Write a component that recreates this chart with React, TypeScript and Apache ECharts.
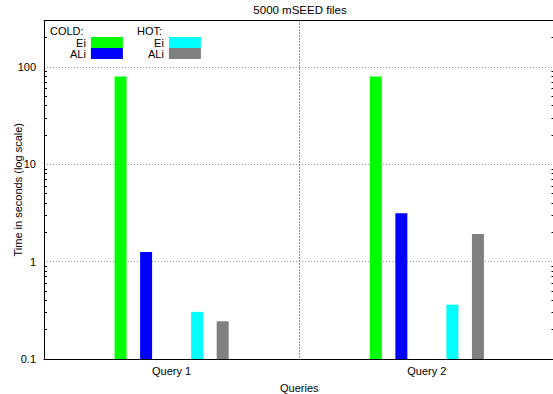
import React, { useEffect, useRef } from "react";
import * as echarts from "echarts";

const categories = ["Query 1", "Query 2"];
const coldEi = [80, 80];
const coldALi = [1.26, 3.14];
const hotEi = [0.305, 0.362];
const hotALi = [0.244, 1.92];
const yMin = 0.1;
const yMax = 300;
const yMinorTicks = [
  0.2, 0.3, 0.4, 0.5, 0.6, 0.7, 0.8, 0.9,
  2, 3, 4, 5, 6, 7, 8, 9,
  20, 30, 40, 50, 60, 70, 80, 90,
  200, 300,
];

const FONT = "'Liberation Sans', Arial, Helvetica, sans-serif";

export default function App() {
  const ref = useRef<HTMLDivElement>(null);
  useEffect(() => {
    if (!ref.current) return;
    const chart = echarts.init(ref.current, undefined, { renderer: "svg" });
    const minorLog = yMinorTicks.map((v) => Math.log10(v));
    const BAR_W = 12;
    const SLOT = 0.1; // fraction of category band between bar centres
    const makeBars = (name: string, values: number[], slot: number, color: string) => ({
      type: "custom",
      name,
      xAxisIndex: 0,
      yAxisIndex: 0,
      itemStyle: { color },
      encode: { x: 0, y: 1 },
      data: values.map((v, i) => [i, v]),
      renderItem: (params: any, api: any) => {
        const cat = api.value(0);
        const v = api.value(1);
        const top = api.coord([cat, v]);
        const base = api.coord([cat, yMin]);
        const band = api.size([1, 1])[0];
        const cx = top[0] + slot * SLOT * band;
        return {
          type: "rect",
          shape: { x: cx - BAR_W / 2, y: top[1], width: BAR_W, height: base[1] - top[1] },
          style: { fill: color },
        };
      },
    });
    const hiddenAxisBits = {
      axisLabel: { show: false },
      splitLine: { show: false },
    };
    const legendCommon = {
      orient: "vertical",
      align: "right",
      top: 37,
      padding: 0,
      itemGap: 0,
      itemWidth: 32,
      itemHeight: 11,
      icon: "rect",
      selectedMode: false,
      formatter: (n: string) => n.split(" ")[1],
      textStyle: { fontSize: 11, lineHeight: 11, color: "#000", fontFamily: FONT },
    };
    chart.setOption({
      animation: false,
      textStyle: { fontFamily: FONT },
      title: {
        text: "5000 mSEED files",
        left: 300,
        top: 4,
        padding: 0,
        textAlign: "center",
        textStyle: { fontSize: 11.5, fontWeight: "normal", color: "#000", fontFamily: FONT },
      },
      grid: {
        left: 44,
        top: 20.5,
        bottom: 35,
        right: -1.5,
        containLabel: false,
        outerBoundsMode: "none",
      },
      legend: [
        { ...legendCommon, data: ["COLD Ei", "COLD ALi"], left: 70 },
        { ...legendCommon, data: ["HOT Ei", "HOT ALi"], left: 148 },
      ],
      graphic: [
        {
          type: "text",
          x: 50,
          y: 31.2,
          style: {
            text: "COLD:",
            fontSize: 11,
            lineHeight: 11,
            verticalAlign: "middle",
            fill: "#000",
            fontFamily: FONT,
          },
        },
        {
          type: "text",
          x: 137,
          y: 31.2,
          style: {
            text: "HOT:",
            fontSize: 11,
            lineHeight: 11,
            verticalAlign: "middle",
            fill: "#000",
            fontFamily: FONT,
          },
        },
      ],
      xAxis: [
        {
          type: "category",
          data: categories,
          position: "bottom",
          name: "Queries",
          nameLocation: "middle",
          nameGap: 23,
          nameMoveOverlap: false,
          nameTextStyle: { fontSize: 11, color: "#000", fontFamily: FONT },
          axisLine: { onZero: false, lineStyle: { color: "#000", width: 1 } },
          axisTick: { inside: true, alignWithLabel: true, length: 4, lineStyle: { color: "#000" } },
          axisLabel: { fontSize: 11, color: "#000", margin: 6, fontFamily: FONT },
          splitLine: { show: true, lineStyle: { color: "#222", type: [1, 2], width: 1 } },
        },
        {
          type: "category",
          data: categories,
          position: "top",
          axisLine: { onZero: false, lineStyle: { color: "#000", width: 1 } },
          axisTick: { inside: true, alignWithLabel: true, length: 4, lineStyle: { color: "#000" } },
          ...hiddenAxisBits,
        },
      ],
      yAxis: [
        {
          type: "log",
          logBase: 10,
          min: yMin,
          max: yMax,
          position: "left",
          name: "Time in seconds (log scale)",
          nameLocation: "middle",
          nameRotate: 90,
          nameGap: 20.5,
          nameMoveOverlap: false,
          nameTextStyle: { fontSize: 11, lineHeight: 11, color: "#000", fontFamily: FONT },
          axisLine: { show: true, onZero: false, lineStyle: { color: "#000", width: 1 } },
          axisTick: { inside: true, length: 5, lineStyle: { color: "#000" } },
          axisLabel: {
            fontSize: 11,
            color: "#000",
            margin: 8,
            showMaxLabel: false,
            fontFamily: FONT,
          },
          splitLine: { show: true, lineStyle: { color: "#999", type: [1, 2], width: 1 } },
        },
        {
          type: "value",
          min: Math.log10(yMin),
          max: Math.log10(yMax),
          position: "left",
          axisLine: { show: false, onZero: false },
          axisTick: { show: true, inside: true, length: 3, customValues: minorLog, lineStyle: { color: "#000" } },
          ...hiddenAxisBits,
        },
        {
          type: "log",
          logBase: 10,
          min: yMin,
          max: yMax,
          position: "right",
          axisLine: { show: true, onZero: false, lineStyle: { color: "#000", width: 1 } },
          axisTick: { inside: true, length: 5, lineStyle: { color: "#000" } },
          ...hiddenAxisBits,
        },
        {
          type: "value",
          min: Math.log10(yMin),
          max: Math.log10(yMax),
          position: "right",
          axisLine: { show: false, onZero: false },
          axisTick: { show: true, inside: true, length: 3, customValues: minorLog, lineStyle: { color: "#000" } },
          ...hiddenAxisBits,
        },
      ],
      series: [
        makeBars("COLD Ei", coldEi, -2, "#00ff00"),
        makeBars("COLD ALi", coldALi, -1, "#0000ff"),
        makeBars("HOT Ei", hotEi, 1, "#00ffff"),
        makeBars("HOT ALi", hotALi, 2, "#808080"),
      ],
    });
    return () => chart.dispose();
  }, []);
  return (
    <div
      ref={ref}
      style={{ position: "fixed", left: 0, top: 0, width: 553, height: 394, background: "#fff" }}
    />
  );
}
